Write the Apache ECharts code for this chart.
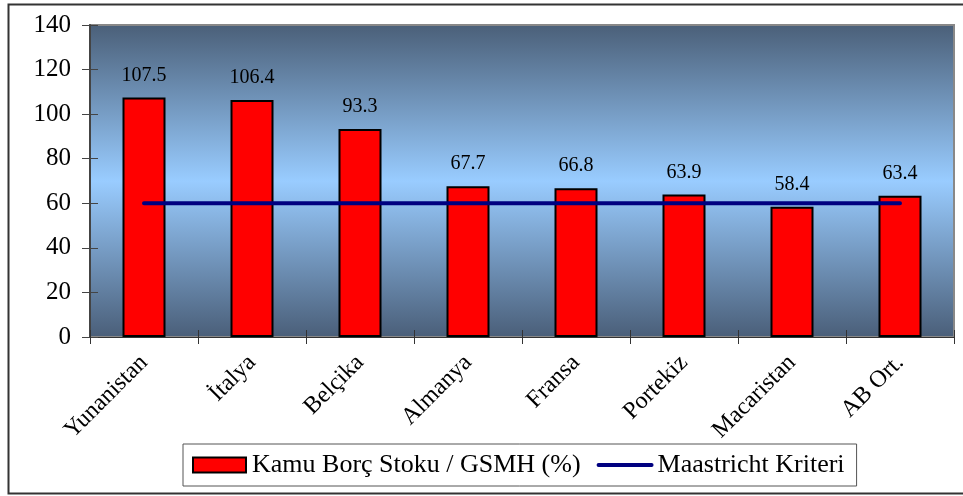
<!DOCTYPE html>
<html lang="tr">
<head>
    <meta charset="UTF-8">
    <title>Kamu Borç Stoku</title>
    <script src="https://cdn.jsdelivr.net/npm/echarts@6/dist/echarts.min.js"></script>
</head>
<style>
    *{
        margin: 0;
        padding: 0;
    }
    html,body{
        width: 100%;
        height: 100%;
        overflow: hidden;
        background: #fff;
    }
    .container{
        width: 963px;
        height: 496px;
    }
</style>
<body>
<div class="container"></div>
<script>
   // data
   let countries = ['Yunanistan', 'İtalya', 'Belçika', 'Almanya', 'Fransa', 'Portekiz', 'Macaristan', 'AB Ort.'];
   let debtRatio = [107.5, 106.4, 93.3, 67.7, 66.8, 63.9, 58.4, 63.4];
   let maastricht = [60, 60, 60, 60, 60, 60, 60, 60];
   let yTicks = {min: 0, max: 140, interval: 20};

   let font = '"Liberation Serif", "Times New Roman", serif';
   let container = document.querySelector('.container');
   let mycharts = echarts.init(container);

   let bgGradient = new echarts.graphic.LinearGradient(0, 0, 0, 1, [
       {offset: 0, color: '#4a5f78'},
       {offset: 0.5, color: '#99ccff'},
       {offset: 1, color: '#4a5e78'}
   ]);

   let options = {
       animation: false,
       backgroundColor: '#fff',
       graphic: [{
           type: 'rect',
           left: 6, top: 2,
           shape: {width: 980, height: 489},
           style: {fill: 'none', stroke: '#333', lineWidth: 2},
           silent: true,
           z: -1
       }],
       grid: {
           left: 90, right: 9, top: 25, bottom: 159,
           show: true,
           backgroundColor: bgGradient,
           borderColor: '#888',
           borderWidth: 2
       },
       legend: {
           bottom: 10,
           left: 183,
           padding: [8, 12, 8, 9],
           itemGap: 16,
           itemWidth: 53,
           itemHeight: 15,
           borderColor: '#555',
           borderWidth: 1,
           textStyle: {fontFamily: font, fontSize: 26, color: '#000', padding: [0, 0, 0, 1]},
           data: [
               {name: 'Kamu Borç Stoku / GSMH (%)', icon: 'rect'},
               {name: 'Maastricht Kriteri', itemStyle: {opacity: 0}, lineStyle: {width: 4, color: '#000080', cap: 'round'}}
           ]
       },
       xAxis: [{
           type: 'category',
           data: countries,
           axisLine: {lineStyle: {color: '#333', width: 1}},
           axisTick: {show: true, length: 7, lineStyle: {color: '#333'}},
           axisLabel: {
               rotate: 45,
               fontFamily: font,
               fontSize: 24,
               color: '#000',
               margin: 22
           }
       }, {
           type: 'category',
           data: countries,
           position: 'bottom',
           axisLine: {show: false},
           axisTick: {show: true, inside: true, length: 7, lineStyle: {color: '#333'}},
           axisLabel: {show: false}
       }],
       yAxis: [{
           type: 'value',
           min: yTicks.min,
           max: yTicks.max,
           interval: yTicks.interval,
           splitLine: {show: false},
           axisLine: {show: true, lineStyle: {color: '#444', width: 2}},
           axisTick: {show: true, length: 8, lineStyle: {color: '#444'}},
           axisLabel: {fontFamily: font, fontSize: 25, color: '#000', margin: 19}
       }, {
           type: 'value',
           position: 'left',
           min: yTicks.min,
           max: yTicks.max,
           interval: yTicks.interval,
           splitLine: {show: false},
           axisLine: {show: false},
           axisTick: {show: true, inside: true, length: 8, lineStyle: {color: '#444'}},
           axisLabel: {show: false}
       }],
       series: [{
           name: 'Kamu Borç Stoku / GSMH (%)',
           type: 'bar',
           data: debtRatio,
           barWidth: 43,
           itemStyle: {color: '#ff0000', borderColor: '#000', borderWidth: 2},
           label: {
               show: true,
               position: 'top',
               distance: 12,
               fontFamily: font,
               fontSize: 20,
               color: '#000'
           },
           z: 2
       }, {
           name: 'Maastricht Kriteri',
           type: 'line',
           data: maastricht,
           symbol: 'none',
           showSymbol: false,
           lineStyle: {color: '#000080', width: 4, cap: 'round'},
           itemStyle: {color: '#000080'},
           z: 3
       }]
   };

   mycharts.setOption(options);
</script>

</body>
</html>
